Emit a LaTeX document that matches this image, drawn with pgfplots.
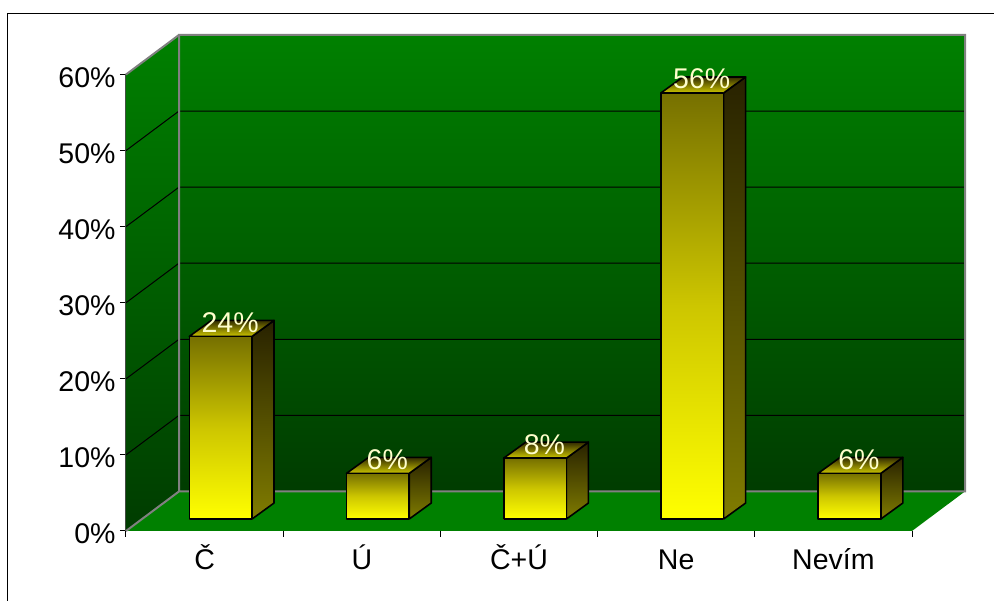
\documentclass[border=0pt]{standalone}
\usepackage{fontspec}
\setmainfont{Liberation Sans}
\usepackage{pgfplots}
\pgfplotsset{compat=1.18}

\definecolor{wallTop}{RGB}{0,128,0}
\definecolor{wallBottom}{RGB}{0,60,0}
\definecolor{edgeGray}{RGB}{128,128,128}
\definecolor{labelCream}{RGB}{255,255,204}
\definecolor{frontTop}{RGB}{118,112,0}
\definecolor{frontMid}{RGB}{205,198,0}
\definecolor{sideTop}{RGB}{40,34,0}
\definecolor{sideBottom}{RGB}{128,124,0}
\definecolor{capBack}{RGB}{50,44,0}
\definecolor{capFront}{RGB}{205,198,0}

% Depth of the floor and of a column, in axis units
\def\wx{0.3372}\def\wy{5.2}
\def\bx{0.4027}\def\by{1.575}
\def\bw{0.399}\def\dx{0.14}\def\dy{2.1}

% #1 category index, #2 percentage
\newcommand{\column}[2]{%
  \addplot[draw=black,line width=1.6pt,line join=round,top color=sideTop,bottom color=sideBottom]
    coordinates {({#1+\bx+\bw},{\by+#2}) ({#1+\bx+\bw+\dx},{\by+#2+\dy}) ({#1+\bx+\bw+\dx},{\by+\dy}) ({#1+\bx+\bw},{\by})} -- cycle;
  \addplot[draw=black,line width=1.6pt,line join=round,top color=capBack,bottom color=capFront]
    coordinates {({#1+\bx},{\by+#2}) ({#1+\bx+\bw},{\by+#2}) ({#1+\bx+\bw+\dx},{\by+#2+\dy}) ({#1+\bx+\dx},{\by+#2+\dy})} -- cycle;
  \addplot[draw=black,line width=1.6pt,line join=round,top color=frontTop,bottom color=yellow,middle color=frontMid]
    coordinates {({#1+\bx},{\by}) ({#1+\bx+\bw},{\by}) ({#1+\bx+\bw},{\by+#2}) ({#1+\bx},{\by+#2})} -- cycle;
  \node[anchor=base,text=labelCream,inner sep=0pt,font=\fontsize{28.5}{32}\selectfont] at (axis cs:{#1+\bx+\bw/2+0.06},{\by+#2}) [yshift=4pt] {#2\%};
}

\begin{document}
\begin{tikzpicture}
\path[use as bounding box] (-126pt,-70pt) rectangle (868pt,531pt);
\draw[black,line width=1pt] (-118.5pt,-70pt) -- (-118.5pt,517pt) -- (868pt,517pt);
\begin{axis}[
  at={(0,0)},anchor=south west,
  scale only axis,width=786pt,height=456.5pt,
  xmin=0,xmax=5,ymin=0,ymax=60,
  clip=false,
  axis x line*=bottom,axis y line*=left,
  axis line style={-,line width=1pt},
  x axis line style={black},
  y axis line style={black!70!white},
  tick align=outside,
  major tick length=6pt,minor tick length=6pt,
  every tick/.style={black,line width=1pt},
  ytick={0,10,20,30,40,50,60},
  yticklabel={\pgfmathprintnumber{\tick}\%},
  xtick={0.5,1.5,2.5,3.5,4.5},
  xticklabels={Č,Ú,Č+Ú,Ne,Nevím},
  minor xtick={0,1,2,3,4,5},
  major x tick style={draw=none},
  /pgf/number format/assume math mode=true,
  tick label style={font=\fontsize{28.5}{32}\selectfont},
  yticklabel style={yshift=-3pt,xshift=-1pt},
  xticklabel style={text height=21pt,text depth=0pt,yshift=-8pt},
]
% back wall, side wall and floor
\addplot[draw=none,top color=wallTop,bottom color=wallBottom]
  coordinates {(\wx,\wy) ({\wx+5},\wy) ({\wx+5},{\wy+60}) (\wx,{\wy+60})} -- cycle;
\addplot[draw=none,top color=wallTop,bottom color=wallBottom]
  coordinates {(0,0) (\wx,\wy) (\wx,{\wy+60}) (0,60)} -- cycle;
\addplot[draw=none,fill=wallTop]
  coordinates {(0,0) (5,0) ({\wx+5},\wy) (\wx,\wy)} -- cycle;
% gridlines
\addplot[black,line width=1pt] coordinates {(0,10) (\wx,{\wy+10}) ({\wx+5},{\wy+10})};
\addplot[black,line width=1pt] coordinates {(0,20) (\wx,{\wy+20}) ({\wx+5},{\wy+20})};
\addplot[black,line width=1pt] coordinates {(0,30) (\wx,{\wy+30}) ({\wx+5},{\wy+30})};
\addplot[black,line width=1pt] coordinates {(0,40) (\wx,{\wy+40}) ({\wx+5},{\wy+40})};
\addplot[black,line width=1pt] coordinates {(0,50) (\wx,{\wy+50}) ({\wx+5},{\wy+50})};
% wall edges
\addplot[edgeGray,line width=2pt] coordinates {(0,0) (\wx,\wy) ({\wx+5},\wy) ({\wx+5},{\wy+60}) (\wx,{\wy+60}) (\wx,\wy)};
\addplot[edgeGray,line width=2pt] coordinates {(0,60) (\wx,{\wy+60})};
% columns
\column{0}{24}
\column{1}{6}
\column{2}{8}
\column{3}{56}
\column{4}{6}
\end{axis}
\end{tikzpicture}
\end{document}
